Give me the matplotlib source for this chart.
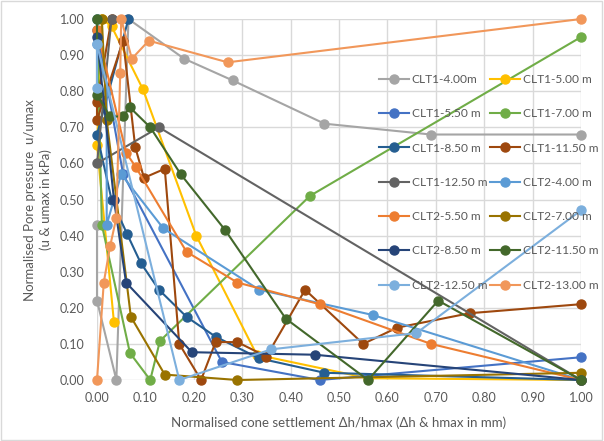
import numpy as np
import matplotlib.pyplot as plt
from matplotlib.patches import Rectangle

plt.rcParams['font.family'] = ['Lato', 'DejaVu Sans']

# series: (label, colour, x values, y values)
clt1_4_x = [0.0, 0.0, 0.04, 0.065, 0.18, 0.28, 0.47, 0.69, 1.0]
clt1_4_y = [0.43, 0.22, 0.0, 1.0, 0.89, 0.83, 0.71, 0.68, 0.68]

clt1_5_x = [0.035, 0.0, 0.01, 0.03, 0.095, 0.205, 0.33, 0.56, 1.0]
clt1_5_y = [0.16, 0.65, 1.0, 0.98, 0.805, 0.40, 0.07, 0.005, 0.0]

clt1_55_x = [0.0, 0.054, 0.258, 0.46, 1.0]
clt1_55_y = [0.97, 0.57, 0.05, 0.0, 0.063]

clt1_7_x = [0.0, 0.01, 0.068, 0.11, 0.13, 0.44, 1.0]
clt1_7_y = [1.0, 0.43, 0.075, 0.0, 0.108, 0.51, 0.95]

clt1_85_x = [0.065, 0.0, 0.03, 0.062, 0.09, 0.128, 0.185, 0.245, 0.335, 0.47, 1.0]
clt1_85_y = [1.0, 0.68, 0.50, 0.405, 0.325, 0.25, 0.175, 0.12, 0.06, 0.02, 0.0]

clt1_115_x = [0.03, 0.0, 0.0, 0.054, 0.079, 0.097, 0.14, 0.17, 0.215, 0.245, 0.29, 0.35, 0.43, 0.55, 0.62, 0.77, 1.0]
clt1_115_y = [1.0, 0.77, 0.72, 0.94, 0.645, 0.56, 0.585, 0.10, 0.0, 0.105, 0.105, 0.065, 0.25, 0.10, 0.145, 0.185, 0.21]

clt1_125_x = [0.03, 0.0, 0.128, 1.0]
clt1_125_y = [1.0, 0.60, 0.70, 0.0]

clt2_4_x = [0.0, 0.0, 0.02, 0.02, 0.05, 0.137, 0.335, 0.57, 1.0]
clt2_4_y = [1.0, 0.93, 0.80, 0.43, 0.57, 0.42, 0.25, 0.18, 0.0]

clt2_55_x = [0.0, 0.06, 0.08, 0.185, 0.29, 0.46, 0.69, 1.0]
clt2_55_y = [0.97, 0.63, 0.59, 0.355, 0.27, 0.21, 0.10, 0.0]

clt2_7_x = [0.01, 0.02, 0.07, 0.14, 0.29, 1.0]
clt2_7_y = [1.0, 0.72, 0.175, 0.015, 0.0, 0.02]

clt2_85_x = [0.0, 0.035, 0.06, 0.196, 0.45, 1.0]
clt2_85_y = [0.95, 0.50, 0.27, 0.077, 0.07, 0.0]

clt2_115_x = [0.0, 0.0, 0.027, 0.054, 0.068, 0.11, 0.173, 0.265, 0.39, 0.56, 0.705, 1.0]
clt2_115_y = [1.0, 0.79, 0.73, 0.73, 0.755, 0.70, 0.57, 0.415, 0.17, 0.0, 0.22, 0.0]

clt2_125_x = [0.0, 0.0, 0.17, 0.36, 0.66, 1.0]
clt2_125_y = [0.81, 0.93, 0.0, 0.085, 0.13, 0.47]

clt2_13_x = [0.0, 0.014, 0.027, 0.04, 0.048, 0.05, 0.072, 0.107, 0.27, 1.0]
clt2_13_y = [0.0, 0.27, 0.37, 0.45, 0.85, 1.0, 0.89, 0.94, 0.88, 1.0]

series = [
    ('CLT1-4.00m', '#A5A5A5', clt1_4_x, clt1_4_y),
    ('CLT1-5.00 m', '#FFC000', clt1_5_x, clt1_5_y),
    ('CLT1-5.50 m', '#4472C4', clt1_55_x, clt1_55_y),
    ('CLT1-7.00 m', '#70AD47', clt1_7_x, clt1_7_y),
    ('CLT1-8.50 m', '#255E91', clt1_85_x, clt1_85_y),
    ('CLT1-11.50 m', '#9E480E', clt1_115_x, clt1_115_y),
    ('CLT1-12.50 m', '#636363', clt1_125_x, clt1_125_y),
    ('CLT2-4.00 m', '#5B9BD5', clt2_4_x, clt2_4_y),
    ('CLT2-5.50 m', '#ED7D31', clt2_55_x, clt2_55_y),
    ('CLT2-7.00 m', '#997300', clt2_7_x, clt2_7_y),
    ('CLT2-8.50 m', '#264478', clt2_85_x, clt2_85_y),
    ('CLT2-11.50 m', '#43682B', clt2_115_x, clt2_115_y),
    ('CLT2-12.50 m', '#7CAFDD', clt2_125_x, clt2_125_y),
    ('CLT2-13.00 m', '#F1975A', clt2_13_x, clt2_13_y),
]

fig = plt.figure(figsize=(6.04, 4.41), dpi=100)
ax = fig.add_axes([97/604, 1-380/441, (581-97)/604, (380-19)/441])

lines = []
for label, col, xs, ys in series:
    ln, = ax.plot(xs, ys, '-o', color=col, lw=1.5, ms=6.5, label=label, clip_on=False, zorder=3)
    lines.append(ln)

ax.set_xlim(0, 1)
ax.set_ylim(0, 1)
ticks = np.arange(0, 1.01, 0.1)
ax.set_xticks(ticks)
ax.set_yticks(ticks)
ax.set_xticklabels(['%.2f' % t for t in ticks])
ax.set_yticklabels(['%.2f' % t for t in ticks])
ax.tick_params(length=0, labelsize=9, labelcolor='#595959', pad=9)
ax.grid(True, color='#D9D9D9', lw=1)
ax.set_axisbelow(True)
for s in ax.spines.values():
    s.set_visible(False)

fig.text(38/604, 1-200/441, 'Normalised Pore pressure  u/umax\n(u & umax in kPa)',
         rotation=90, ha='center', va='center', multialignment='center',
         fontsize=9.5, color='#595959', linespacing=1.4)
fig.text(339/604, 1-423/441, 'Normalised cone settlement \u0394h/hmax (\u0394h & hmax in mm)',
         ha='center', va='center', fontsize=9.5, color='#595959')

# legend filled row by row like the original
order = list(range(0, 14, 2)) + list(range(1, 14, 2))
leg = ax.legend([lines[i] for i in order], [series[i][0] for i in order],
                loc='upper left', bbox_to_anchor=(379/604, 1-74/441), bbox_transform=fig.transFigure,
                ncol=2, frameon=False, fontsize=8.6, labelcolor='#595959', handlelength=2.5,
                handletextpad=0.25, columnspacing=0.2, labelspacing=1.95, borderpad=0,
                borderaxespad=0)

fig.patches.append(Rectangle((0.002, 0.003), 0.995, 0.994, transform=fig.transFigure,
                             fill=False, edgecolor='#D9D9D9', lw=1))

fig.savefig('out.png', dpi=100)
